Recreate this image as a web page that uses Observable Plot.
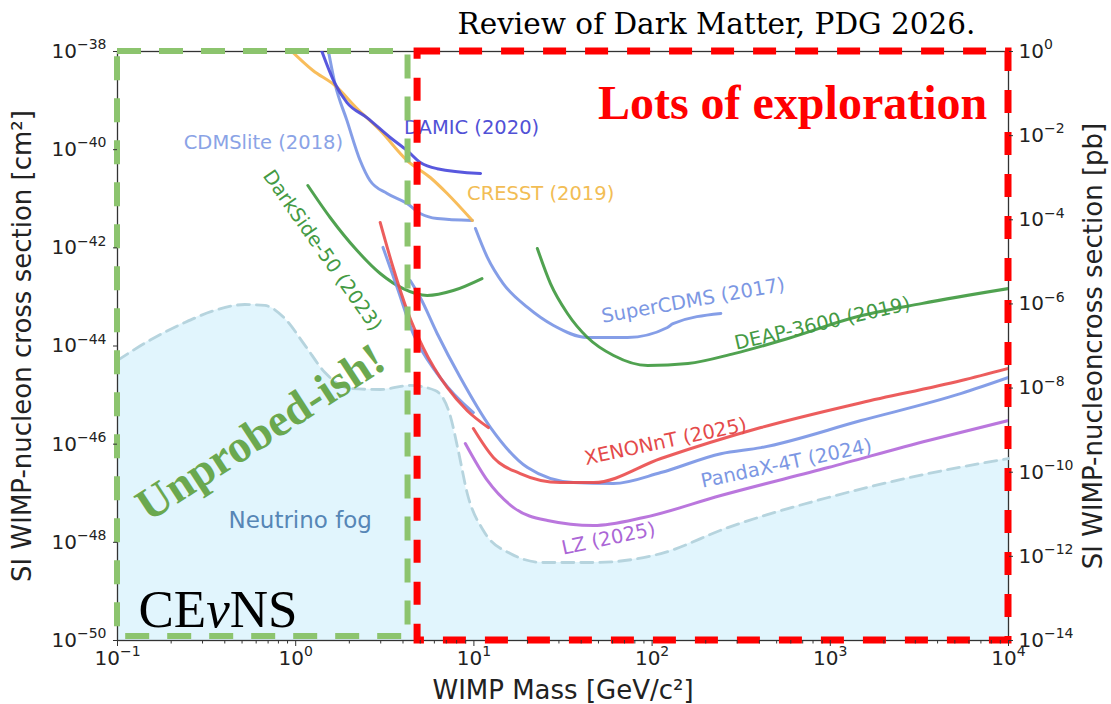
<!DOCTYPE html>
<html>
<head>
<meta charset="utf-8">
<script src="https://cdn.jsdelivr.net/npm/d3@7"></script>
<script src="https://cdn.jsdelivr.net/npm/@observablehq/plot@0.6"></script>
<style>
  html, body { margin: 0; padding: 0; background: #fff; }
  svg { display: block; }
</style>
</head>
<body>
<div id="chart"></div>
<script>
// ---------------- DATA (mass in GeV/c^2, cross section in cm^2) ----------------
const fogMass  = [0.1, 0.151, 0.238, 0.351, 0.518, 0.671, 0.869, 1.13, 1.46, 2.02, 2.98, 4.39, 6.07, 7.36, 8.17, 9.18, 11.3, 16.0, 24.6, 47, 112, 266, 973, 3550, 10000];
const fogSigma = [5.1e-45, 1.29e-44, 3.0e-44, 5.3e-44, 7.0e-44, 6.7e-44, 3.63e-44, 1.02e-44, 2.88e-45, 1.36e-45, 1.3e-45, 1.57e-45, 1.24e-45, 3.84e-46, 7.4e-47, 9.9e-48, 1.74e-48, 5.9e-49, 3.88e-49, 3.88e-49, 5.9e-49, 2.0e-48, 8.2e-48, 2.52e-47, 5.1e-47];

const cdmsliteMass  = [1.52, 1.66, 1.94, 2.30, 2.61, 3.26, 4.22, 5.0, 6.22, 9.8];
const cdmsliteSigma = [1.1e-38, 2.23e-39, 3.9e-40, 6.0e-41, 2.35e-41, 1.28e-41, 8.0e-42, 5.0e-42, 3.95e-42, 3.6e-42];

const damicMass  = [1.39, 1.66, 1.94, 2.51, 3.39, 4.22, 5.0, 6.22, 10.9];
const damicSigma = [1.1e-38, 2.23e-39, 9.1e-40, 4.5e-40, 1.77e-40, 9.6e-41, 5.5e-41, 4.1e-41, 3.27e-41];

const cresstMass  = [0.927, 1.25, 1.66, 2.21, 2.98, 4.22, 5.69, 7.08, 9.8];
const cresstSigma = [1.1e-38, 4.1e-39, 2.03e-39, 6.9e-40, 2.45e-40, 6.0e-41, 2.71e-41, 1.28e-41, 3.6e-42];

const supercdmsMass  = [10.2, 11.9, 14.6, 20.0, 28.0, 43.4, 72.9, 122, 131, 243];
const supercdmsSigma = [2.48e-42, 6.4e-43, 1.87e-43, 6.1e-44, 2.61e-44, 1.49e-44, 1.49e-44, 2.38e-44, 2.87e-44, 4.6e-44];

const darksideMass  = [1.17, 1.56, 2.21, 2.98, 4.01, 5.47, 7.66, 11.1];
const darksideSigma = [1.86e-41, 4.15e-42, 8.8e-43, 3.0e-43, 1.48e-43, 1.07e-43, 1.35e-43, 2.37e-43];

const deapMass  = [22.7, 26.9, 33.5, 43.4, 60.8, 94.4, 159, 288, 579, 1361, 3243, 10000];
const deapSigma = [9.7e-43, 1.87e-43, 4.6e-44, 1.49e-44, 6.4e-45, 4.0e-45, 4.4e-45, 7.0e-45, 1.42e-44, 3.8e-44, 7.3e-44, 1.48e-43];

const xenonAMass  = [2.98, 3.52, 4.22, 5.19, 7.08, 9.18, 12.05];
const xenonASigma = [3.28e-42, 3.97e-43, 5.3e-44, 9.3e-45, 1.43e-45, 4.8e-46, 2.18e-46];
const xenonBMass  = [9.93, 12.9, 18.2, 30.6, 47.0, 112, 408, 1490, 5440, 10000];
const xenonBSigma = [2.08e-46, 5.3e-47, 2.52e-47, 1.65e-47, 1.65e-47, 5.1e-47, 2.18e-46, 7.0e-46, 1.98e-45, 3.5e-45];

const pandaAMass  = [3.09, 3.71, 4.56, 6.22, 8.39, 9.93];
const pandaASigma = [1.02e-42, 1.56e-43, 1.8e-44, 2.75e-45, 7.7e-46, 4.4e-46];
const pandaBMass  = [4.39, 5.0, 6.22, 8.39, 12.4, 20.0, 36.2, 60.8, 112, 243, 408, 1490, 5440, 10000];
const pandaBSigma = [2.16e-43, 9.7e-44, 1.8e-44, 2.28e-45, 2.18e-46, 3.34e-47, 1.65e-47, 1.58e-47, 2.64e-47, 6.4e-47, 8.5e-47, 3.03e-46, 1.08e-45, 2.28e-45];

const lzMass  = [8.95, 11.9, 16.7, 25.9, 47.0, 89.7, 243, 973, 3550, 10000];
const lzSigma = [1.03e-46, 1.82e-47, 5.1e-48, 2.78e-48, 2.2e-48, 3.2e-48, 9.0e-48, 3.34e-47, 1.19e-46, 3.03e-46];

// curve labels (anchor in data coordinates)
const labelText  = ["CDMSlite (2018)", "DAMIC (2020)", "CRESST (2019)", "DarkSide-50 (2023)", "SuperCDMS (2017)", "DEAP-3600 (2019)", "XENONnT (2025)", "PandaX-4T (2024)", "LZ (2025)"];
const labelMass  = [0.659, 9.7, 23.7, 1.41, 170, 903, 119, 567, 56.9];
const labelSigma = [1.4e-40, 2.8e-40, 1.28e-41, 8.8e-43, 8.45e-44, 2.87e-44, 1.13e-46, 4.04e-47, 1.19e-48];

// annotations
const noteText  = ["Neutrino fog", "CEνNS", "Unprobed-ish!", "Lots of exploration"];
const noteMass  = [1.06, 0.131, 0.634, 614];
const noteSigma = [2.78e-48, 4.27e-50, 1.73e-46, 8.7e-40];

// highlighted regions
const regionName     = ["Unprobed-ish", "Lots of exploration"];
const regionMassLo   = [0.1, 4.83];
const regionMassHi   = [4.27, 10000];
const regionSigmaLo  = [1.2e-50, 1e-50];
const regionSigmaHi  = [1e-38, 1e-38];

// axis ticks (exponents)
const xTickExp  = [-1, 0, 1, 2, 3, 4];
const yTickExp  = [-38, -40, -42, -44, -46, -48, -50];
const pbTickExp = [0, -2, -4, -6, -8, -10, -12, -14];

const titleText = "Review of Dark Matter, PDG 2026.";
const xLabel = "WIMP Mass [GeV/c²]";
const yLabel = "SI WIMP-nucleon cross section [cm²]";
const yRightLabel = "SI WIMP-nucleoncross section [pb]";

// ---------------- BUILD ----------------
const seg = (name, ms, ss) => ms.map((m, i) => ({seg: name, mass: m, sigma: ss[i]}));
const fog = fogMass.map((m, i) => ({mass: m, sigma: fogSigma[i]}));

const SUP = {"-": "⁻", "0": "⁰", "1": "¹", "2": "²", "3": "³", "4": "⁴", "5": "⁵", "6": "⁶", "7": "⁷", "8": "⁸", "9": "⁹"};
const pow10 = e => "10" + String(e).replace(/[-0-9]/g, c => SUP[c]);

const xMinor = [];
for (const e of [-1, 0, 1, 2, 3]) for (let k = 2; k <= 9; k++) xMinor.push(k * 10 ** e);

const pbToCm = e => 10 ** (-38 + e * 12 / 14);

const sans = "DejaVu Sans, sans-serif";
const serif = "Liberation Serif, Times New Roman, serif";

const lineStyle = {strokeWidth: 3, strokeOpacity: 0.9, curve: "monotone-x", clip: true};

const series = [
  {data: seg("cdmslite", cdmsliteMass, cdmsliteSigma), color: "#7894e4"},
  {data: seg("cresst", cresstMass, cresstSigma), color: "#f7b649"},
  {data: seg("damic", damicMass, damicSigma), color: "#4646da"},
  {data: seg("supercdms", supercdmsMass, supercdmsSigma), color: "#7894e4"},
  {data: seg("darkside", darksideMass, darksideSigma), color: "#3d983d"},
  {data: seg("deap", deapMass, deapSigma), color: "#3d983d"},
  {data: [...seg("pandaA", pandaAMass, pandaASigma), ...seg("pandaB", pandaBMass, pandaBSigma)], color: "#7894e4"},
  {data: [...seg("xenonA", xenonAMass, xenonASigma), ...seg("xenonB", xenonBMass, xenonBSigma)], color: "#ea4b4b"},
  {data: seg("lz", lzMass, lzSigma), color: "#b268d9"}
];

const labelColor  = ["#8aa3e6", "#5151d6", "#f2bd55", "#449a44", "#7c97e3", "#449a44", "#e44a4a", "#7c97e3", "#ab66d6"];
const labelRotate = [0, 0, 0, 55, -10, -13, -12, -12, -12];
const labels = labelText.map((t, i) => ({text: t, mass: labelMass[i], sigma: labelSigma[i], color: labelColor[i], rotate: labelRotate[i]}));

const notes = noteText.map((t, i) => ({text: t, mass: noteMass[i], sigma: noteSigma[i]}));
const regions = regionName.map((n, i) => ({name: n, x1: regionMassLo[i], x2: regionMassHi[i], y1: regionSigmaLo[i], y2: regionSigmaHi[i]}));

const chart = Plot.plot({
  width: 1111,
  height: 704,
  marginLeft: 117,
  marginRight: 103,
  marginTop: 51,
  marginBottom: 64,
  style: {background: "#fff", fontFamily: sans, color: "#222", overflow: "visible"},
  x: {type: "log", domain: [0.1, 1e4], label: null},
  y: {type: "log", domain: [1e-50, 1e-38], label: null},
  marks: [
    Plot.areaY(fog, {x: "mass", y1: 1e-50, y2: "sigma", fill: "#e1f5fd", curve: "monotone-x"}),
    Plot.frame({stroke: "#333", strokeWidth: 1.3}),
    Plot.lineY(fog, {x: "mass", y: "sigma", stroke: "#b6d4de", strokeWidth: 2.8, strokeDasharray: "12,7", curve: "monotone-x"}),
    ...series.map(s => Plot.line(s.data, {x: "mass", y: "sigma", z: "seg", stroke: s.color, ...lineStyle})),
    // curve labels
    ...labels.map(l => Plot.text([l], {x: "mass", y: "sigma", text: "text", fill: l.color, rotate: l.rotate, fontSize: 19.5, fontFamily: sans, textAnchor: "middle"})),
    // annotations
    Plot.text([notes[0]], {x: "mass", y: "sigma", text: "text", fill: "#5686b6", fontSize: 23, fontFamily: sans}),
    Plot.text([notes[1]], {x: "mass", y: "sigma", text: "text", fill: "#000", fontSize: 53, fontFamily: serif, textAnchor: "start"}),
    Plot.text([notes[2]], {x: "mass", y: "sigma", text: "text", fill: "#6aa84f", fontSize: 46, fontWeight: "bold", fontFamily: serif, rotate: -33}),
    Plot.text([notes[3]], {x: "mass", y: "sigma", text: "text", fill: "#ff0000", fontSize: 48, fontWeight: "bold", fontFamily: serif}),
    // highlighted regions
    Plot.rect([regions[0]], {x1: "x1", x2: "x2", y1: "y1", y2: "y2", fill: "none", stroke: "#8cc46e", strokeWidth: 6, strokeDasharray: "24,18"}),
    Plot.rect([regions[1]], {x1: "x1", x2: "x2", y1: "y1", y2: "y2", fill: "none", stroke: "#ff0000", strokeWidth: 7, strokeDasharray: "23,19"}),
    // axes
    Plot.axisX({ticks: xTickExp.map(e => 10 ** e), tickFormat: d => pow10(Math.round(Math.log10(d))), tickSize: 6, tickPadding: 4, fontSize: 20, label: null, stroke: "#333"}),
    Plot.axisX({ticks: xMinor, tickFormat: () => "", tickSize: 3.5, label: null, stroke: "#333"}),
    Plot.axisY({ticks: yTickExp.map(e => 10 ** e), tickFormat: d => pow10(Math.round(Math.log10(d))), tickSize: 4, tickPadding: 7, fontSize: 20, label: null, stroke: "#333"}),
    Plot.axisY({anchor: "right", ticks: pbTickExp.map(pbToCm), tickFormat: d => pow10(Math.round((Math.log10(d) + 38) * 14 / 12)), tickSize: 4, tickPadding: 6, fontSize: 20, label: null, stroke: "#333"}),
    // axis titles
    Plot.text([xLabel], {text: d => d, frameAnchor: "bottom", lineAnchor: "middle", dy: 50, fontSize: 26, fontFamily: sans, fill: "#222"}),
    Plot.text([yLabel], {text: d => d, frameAnchor: "left", textAnchor: "middle", lineAnchor: "middle", dx: -95, rotate: -90, fontSize: 26, fontFamily: sans, fill: "#222"}),
    Plot.text([yRightLabel], {text: d => d, frameAnchor: "right", textAnchor: "middle", lineAnchor: "middle", dx: 85, rotate: -90, fontSize: 26, fontFamily: sans, fill: "#222"}),
    // title
    Plot.text([titleText], {text: d => d, frameAnchor: "top-right", lineAnchor: "middle", dx: -33, dy: -27, textAnchor: "end", fontSize: 29.5, fontFamily: "DejaVu Serif, serif", fill: "#000"})
  ]
});

const NS = "http://www.w3.org/2000/svg";
const UNSUP = {"⁻": "−", "⁰": "0", "¹": "1", "²": "2", "³": "3", "⁴": "4", "⁵": "5", "⁶": "6", "⁷": "7", "⁸": "8", "⁹": "9"};
chart.querySelectorAll("text").forEach(t => {
  const s = t.textContent;
  // italic nu in CEνNS
  if (s === "CEνNS") {
    t.textContent = "";
    [["CE", "normal"], ["ν", "italic"], ["NS", "normal"]].forEach(([p, st]) => {
      const sp = document.createElementNS(NS, "tspan");
      sp.textContent = p;
      sp.setAttribute("font-style", st);
      t.appendChild(sp);
    });
  }
  // tick labels: real superscripts like matplotlib mathtext
  else if (t.children.length === 0 && /^10[⁻⁰¹²³⁴⁵⁶⁷⁸⁹]+$/.test(s)) {
    const exp = s.slice(2).replace(/./g, c => UNSUP[c]);
    t.textContent = "";
    const base = document.createElementNS(NS, "tspan");
    base.textContent = "10";
    const sup = document.createElementNS(NS, "tspan");
    sup.textContent = exp;
    sup.setAttribute("font-size", "0.7em");
    sup.setAttribute("dy", "-0.62em");
    t.appendChild(base);
    t.appendChild(sup);
  }
});

document.getElementById("chart").append(chart);
</script>
</body>
</html>
